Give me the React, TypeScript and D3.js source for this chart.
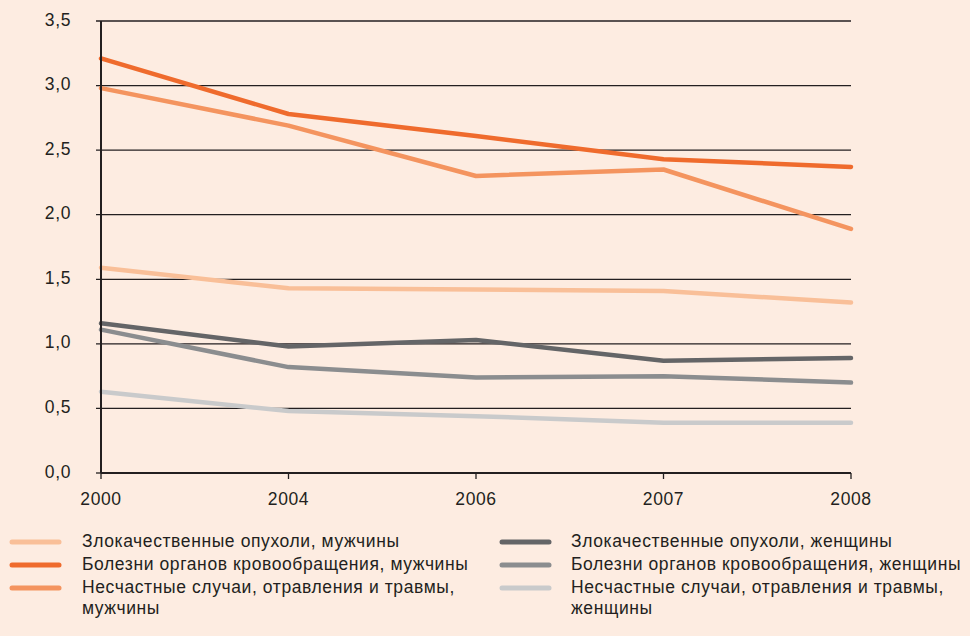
import {useMemo} from "react";
import * as d3 from "d3";

const WIDTH = 970;
const HEIGHT = 636;
const MARGIN = {top: 21, right: 119, bottom: 163, left: 101};

const years = ["2000", "2004", "2006", "2007", "2008"];
const yTicks = [0, 0.5, 1, 1.5, 2, 2.5, 3, 3.5];

const cancerMen = [1.59, 1.43, 1.42, 1.41, 1.32];
const circulationMen = [3.21, 2.78, 2.61, 2.43, 2.37];
const accidentsMen = [2.98, 2.69, 2.3, 2.35, 1.89];
const cancerWomen = [1.16, 0.98, 1.03, 0.87, 0.89];
const circulationWomen = [1.11, 0.82, 0.74, 0.75, 0.7];
const accidentsWomen = [0.63, 0.48, 0.44, 0.39, 0.39];

const series = [
    {name: ["Злокачественные опухоли, мужчины"], color: "#f9bf98", values: cancerMen},
    {name: ["Болезни органов кровообращения, мужчины"], color: "#ef6b2d", values: circulationMen},
    {name: ["Несчастные случаи, отравления и травмы,", "мужчины"], color: "#f4945f", values: accidentsMen},
    {name: ["Злокачественные опухоли, женщины"], color: "#646567", values: cancerWomen},
    {name: ["Болезни органов кровообращения, женщины"], color: "#8b8d8f", values: circulationWomen},
    {name: ["Несчастные случаи, отравления и травмы,", "женщины"], color: "#c9cacb", values: accidentsWomen},
];

// drawing order: back to front as in the original
const drawOrder = [5, 4, 3, 0, 2, 1];

export default function App() {
    const boundsWidth = WIDTH - MARGIN.left - MARGIN.right;
    const boundsHeight = HEIGHT - MARGIN.top - MARGIN.bottom;

    const xScale = useMemo(() => d3.scalePoint().domain(years).range([0, boundsWidth]), [boundsWidth]);
    const yScale = useMemo(() => d3.scaleLinear().domain([0, 3.5]).range([boundsHeight, 0]), [boundsHeight]);

    const line = d3
        .line<number>()
        .x((_, i) => xScale(years[i]) ?? 0)
        .y((d) => yScale(d));

    const font = "'Liberation Sans', Arial, sans-serif";
    const fs = 17.5;
    const ls = 0.6;

    return (
        <svg width={WIDTH} height={HEIGHT} style={{position: "absolute", left: 0, top: 0, background: "#fdece1"}}>
            <rect width={WIDTH} height={HEIGHT} fill="#fdece1"/>
            <g transform={`translate(${MARGIN.left},${MARGIN.top})`} fontFamily={font}>
                {/* grid lines + y ticks */}
                {yTicks.map((t) => (
                    <g key={t}>
                        <line x1={-5} x2={t === 0 ? 0 : boundsWidth} y1={yScale(t)} y2={yScale(t)} stroke="#231f20" strokeWidth={1.3}/>
                        <text x={-30} y={yScale(t)} textAnchor="end" dominantBaseline="middle" fontSize={fs}
                              letterSpacing={ls} fill="#231f20">
                            {d3.format(".1f")(t).replace(".", ",")}
                        </text>
                    </g>
                ))}
                {/* series */}
                {drawOrder.map((i) => (
                    <path key={i} d={line(series[i].values) ?? ""} fill="none" stroke={series[i].color}
                          strokeWidth={4.5} strokeLinejoin="round" strokeLinecap="round"/>
                ))}
                {/* axes */}
                <line x1={0} x2={0} y1={0} y2={boundsHeight} stroke="#231f20" strokeWidth={2}/>
                <line x1={0} x2={boundsWidth} y1={boundsHeight} y2={boundsHeight} stroke="#231f20" strokeWidth={2}/>
                {years.map((y) => (
                    <g key={y}>
                        <line x1={xScale(y)} x2={xScale(y)} y1={boundsHeight} y2={boundsHeight + 6} stroke="#231f20" strokeWidth={1.3}/>
                        <text x={xScale(y)} y={boundsHeight + 27} textAnchor="middle" dominantBaseline="middle" fontSize={fs}
                              letterSpacing={ls} fill="#231f20">
                            {y}
                        </text>
                    </g>
                ))}
            </g>
            {/* legend */}
            <g fontFamily={font} fontSize={fs} letterSpacing={ls} fill="#231f20">
                {series.map((s, i) => {
                    const col = Math.floor(i / 3);
                    const row = i % 3;
                    const x = col === 0 ? 12 : 502;
                    const y = 542 + row * 23;
                    return (
                        <g key={i}>
                            <line x1={x} x2={x + 47} y1={y} y2={y} stroke={s.color} strokeWidth={5} strokeLinecap="round"/>
                            {s.name.map((t, j) => (
                                <text key={j} x={col === 0 ? 82 : 571} y={y + j * 21} dominantBaseline="middle">{t}</text>
                            ))}
                        </g>
                    );
                })}
            </g>
        </svg>
    );
}
